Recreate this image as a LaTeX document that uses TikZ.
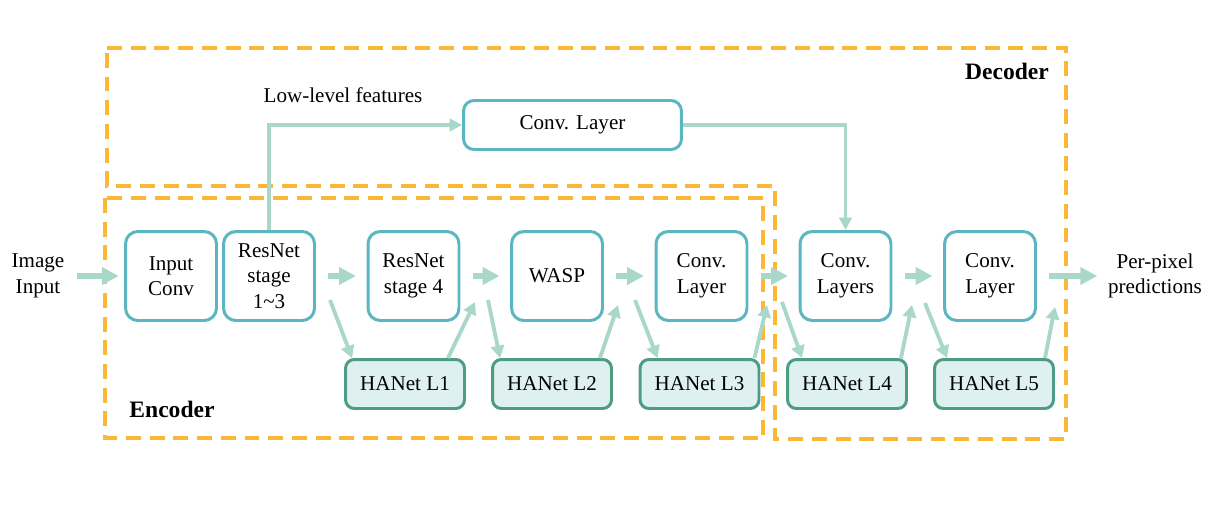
\documentclass[tikz,border=0pt]{standalone}
\usepackage{fontspec}
\setmainfont{Liberation Serif}
\usetikzlibrary{arrows.meta}
\definecolor{boxc}{HTML}{5BB6C1}
\definecolor{hac}{HTML}{4D9C83}
\definecolor{hafill}{HTML}{DFF0F1}
\definecolor{arr}{HTML}{A9D8CA}
\definecolor{og}{HTML}{FBB735}
\tikzstyle{block} = [draw=boxc, line width=1.7pt, rounded corners=7pt, minimum width=1.82cm, minimum height=1.78cm, align=center, inner sep=1pt]
\tikzstyle{wideblock} = [draw=boxc, line width=1.7pt, rounded corners=6pt, minimum width=4.36cm, minimum height=0.98cm]
\tikzstyle{hanet} = [draw=hac, fill=hafill, line width=1.7pt, rounded corners=5pt, minimum width=2.38cm, minimum height=0.98cm]
\tikzstyle{flow} = [arr, line width=3.2pt, -{Triangle[length=9.6pt,width=9.6pt]}, shorten <=7pt, shorten >=6pt]
\tikzstyle{side} = [arr, line width=2.2pt, -{Triangle[length=7pt,width=7.5pt]}]
\tikzstyle{link} = [arr, line width=2.2pt, -{Triangle[length=7pt,width=7pt]}]
\tikzstyle{frame} = [og, line width=2.3pt, dash pattern=on 8.5pt off 5pt]
\tikzstyle{plain} = [align=center, inner sep=0pt]
\tikzstyle{title} = [font=\fontsize{13.4}{16}\selectfont\bfseries, inner sep=0pt]

\begin{document}
\begin{tikzpicture}[x=0.02cm, y=-0.02cm, font=\fontsize{12}{14.5}\selectfont]
			\useasboundingbox (0,0) rectangle (1227,517);
			\draw[frame] (107,48) -- (1066,48) -- (1066,439) -- (775,439) -- (775,186) -- (107,186) -- cycle;
			\draw[frame] (105,198) rectangle (763,438);
			\node[title] (dec) at (1007,71) {Decoder};
			\node[title] (enc) at (172,409) {Encoder};
			\node[plain] (img) at (38,276) {Image\\Input};
			\node[block] (inconv) at (171,276) {Input\\Conv};
			\node[block] (res13) at (269,276) {ResNet\\stage\\1\textasciitilde 3};
			\node[block] (res4) at (413.5,276) {ResNet\\stage 4};
			\node[block] (wasp) at (557,276) {WASP};
			\node[block] (conv1) at (701.5,276) {Conv.\\Layer};
			\node[block] (convs) at (845.5,276) {Conv.\\Layers};
			\node[block] (conv2) at (990,276) {Conv.\\Layer};
			\node[plain] (out) at (1155,276) {Per-pixel\\predictions};
			\node[wideblock] (topconv) at (572.5,125) {Conv. Layer};
			\node[plain] (low) at (343,95) {Low-level features};
			\node[hanet] (L1) at (405,384) {HANet L1};
			\node[hanet] (L2) at (552,384) {HANet L2};
			\node[hanet] (L3) at (699.5,384) {HANet L3};
			\node[hanet] (L4) at (847,384) {HANet L4};
			\node[hanet] (L5) at (994,384) {HANet L5};
			\coordinate (d1) at (330,300);
			\coordinate (u1) at (475,302);
			\coordinate (d2) at (488,300);
			\coordinate (u2) at (618,305);
			\coordinate (d3) at (635,300);
			\coordinate (u3) at (767,305);
			\coordinate (d4) at (782,302);
			\coordinate (u4) at (912,305);
			\coordinate (d5) at (925,303);
			\coordinate (u5) at (1055,307);
			\draw[flow, shorten >=3pt] (img) -- (inconv);
			\draw[flow] (res13) -- (res4);
			\draw[flow] (res4) -- (wasp);
			\draw[flow] (wasp) -- (conv1);
			\draw[flow] (conv1) -- (convs);
			\draw[flow] (convs) -- (conv2);
			\draw[flow] (conv2) -- (out);
			\draw[link] (res13.north) |- (topconv.west);
			\draw[link] (topconv.east) -| (convs.north);
			\draw[side] (d1) -- ([xshift=0.16cm]L1.north west);
			\draw[side] ([xshift=-0.36cm]L1.north east) -- (u1);
			\draw[side] (d2) -- ([xshift=0.18cm]L2.north west);
			\draw[side] ([xshift=-0.26cm]L2.north east) -- (u2);
			\draw[side] (d3) -- ([xshift=0.38cm]L3.north west);
			\draw[side] ([xshift=-0.12cm]L3.north east) -- (u3);
			\draw[side] (d4) -- ([xshift=0.32cm]L4.north west);
			\draw[side] ([xshift=-0.14cm]L4.north east) -- (u4);
			\draw[side] (d5) -- ([xshift=0.28cm]L5.north west);
			\draw[side] ([xshift=-0.2cm]L5.north east) -- (u5);
		\end{tikzpicture}
\end{document}
